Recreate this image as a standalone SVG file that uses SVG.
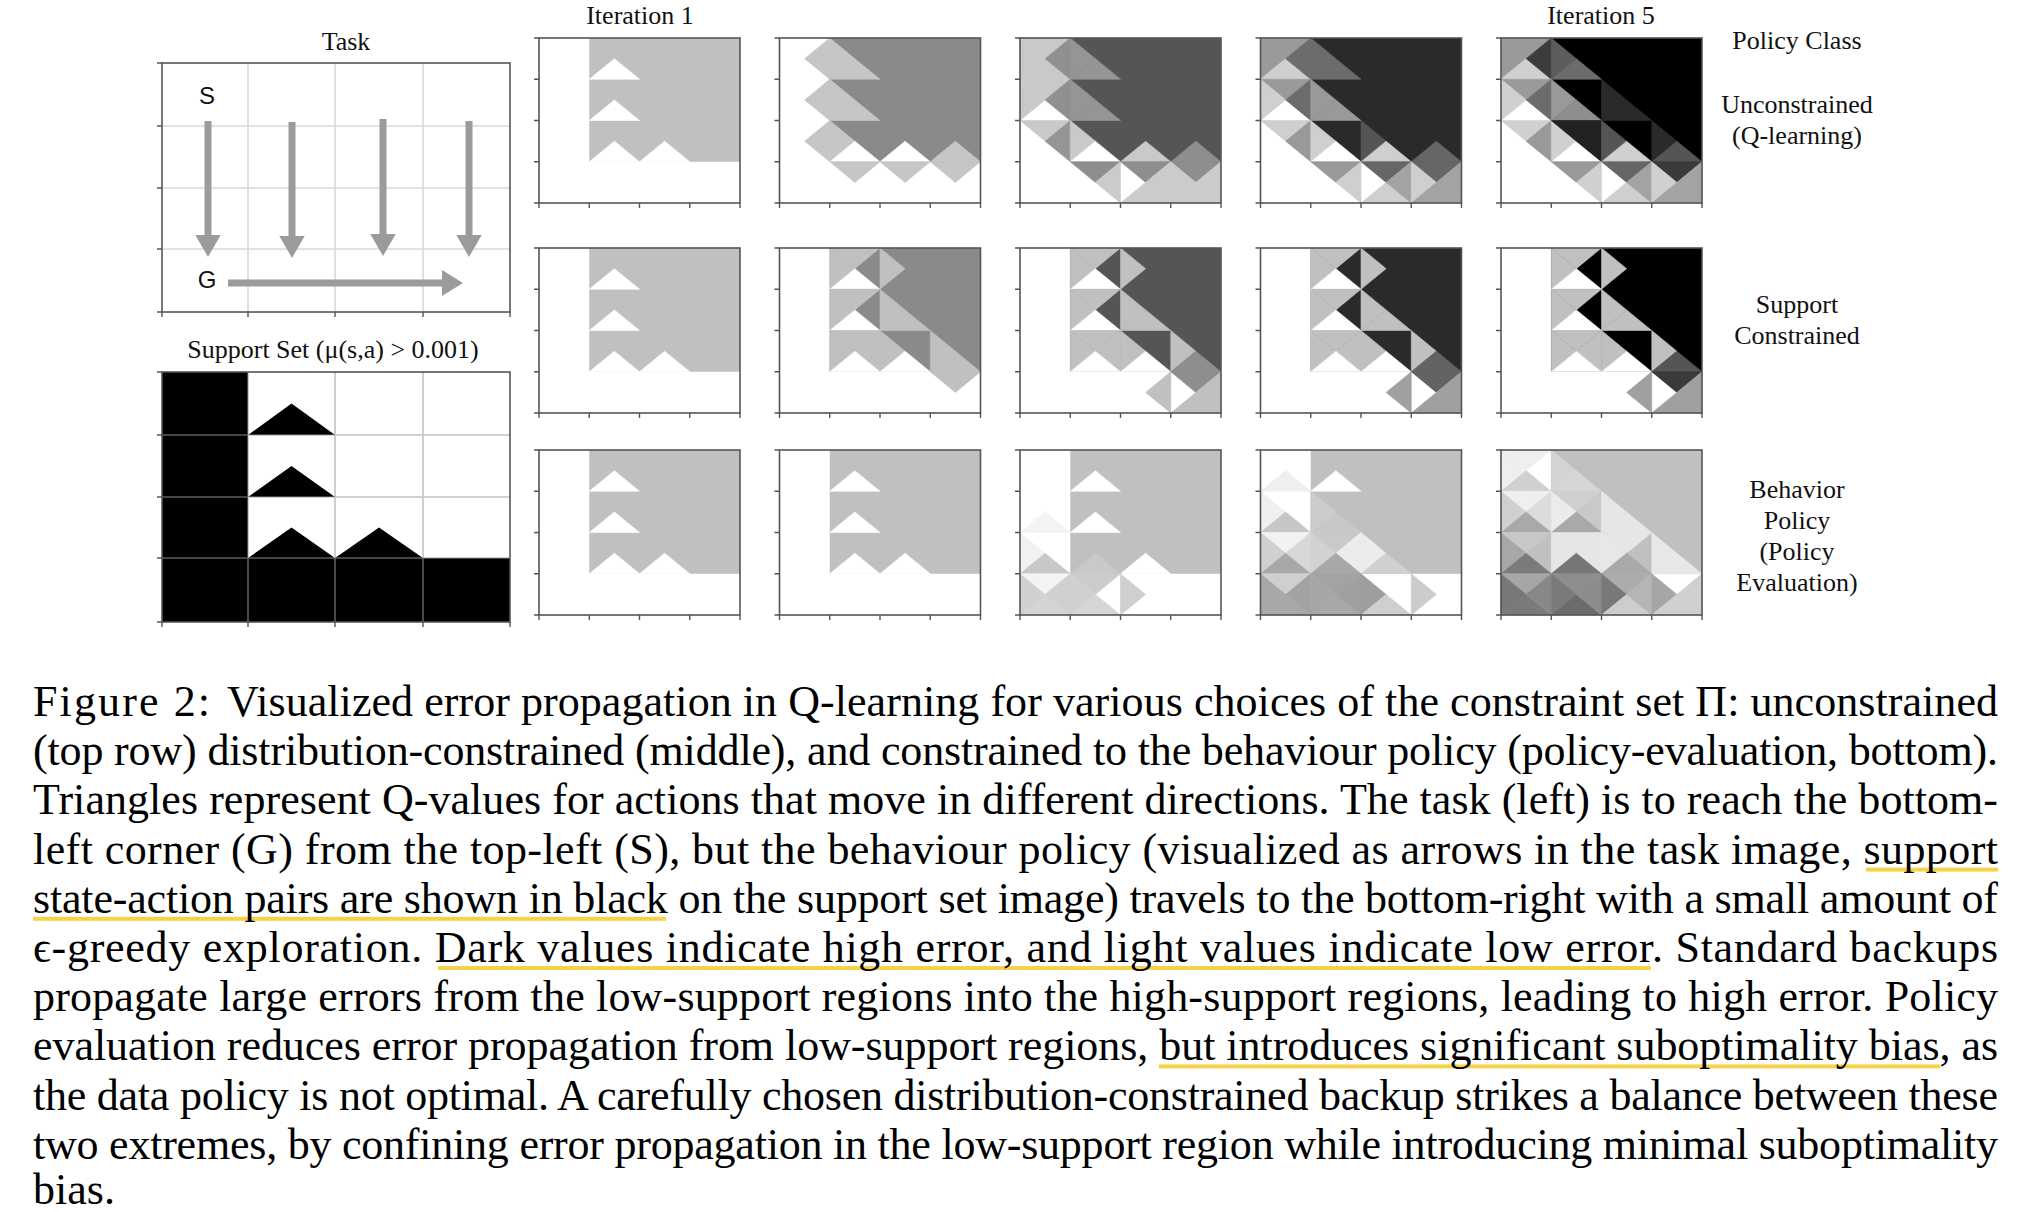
<svg xmlns="http://www.w3.org/2000/svg" xmlns:xlink="http://www.w3.org/1999/xlink" width="2020" height="1212" viewBox="0 0 2020 1212">
<style>
.lbl{font-family:"Liberation Serif","Times New Roman",serif;font-size:26px;fill:#111;text-anchor:middle}
.cap{font-family:"Liberation Serif","Times New Roman",serif;font-size:44px;fill:#000}
.sg{font-family:"Liberation Sans",Arial,sans-serif;font-size:24px;fill:#111;text-anchor:middle}
.frame{fill:none;stroke:#555;stroke-width:1.6}
.tk{fill:none;stroke:#555;stroke-width:1.4}
.ul{fill:#f6d24a}
.arr{fill:#9b9b9b}
</style>
<defs>
<path id="t" d="M0 0H50.25L25.125 20.625Z" fill="currentColor" stroke="currentColor" stroke-width="0.6" stroke-linejoin="round"/>
<path id="r" d="M50.25 0V41.25L25.125 20.625Z" fill="currentColor" stroke="currentColor" stroke-width="0.6" stroke-linejoin="round"/>
<path id="b" d="M0 41.25H50.25L25.125 20.625Z" fill="currentColor" stroke="currentColor" stroke-width="0.6" stroke-linejoin="round"/>
<path id="l" d="M0 0V41.25L25.125 20.625Z" fill="currentColor" stroke="currentColor" stroke-width="0.6" stroke-linejoin="round"/>
<path id="ticks" class="tk" d="M-5 0H0M-5 41.25H0M-5 82.5H0M-5 123.75H0M-5 165H0M0 165V170M50.25 165V170M100.5 165V170M150.75 165V170M201 165V170"/>
<g id="iter1">
<rect x="0" y="0" width="201" height="165" fill="#fff"/>
<rect x="50.25" y="0" width="150.75" height="123.75" fill="#c0c0c0"/>
<use href="#b" x="50.25" y="0" color="#fff"/>
<use href="#b" x="50.25" y="41.25" color="#fff"/>
<use href="#b" x="50.25" y="82.5" color="#fff"/>
<use href="#b" x="100.5" y="82.5" color="#fff"/>
</g>
</defs>
<rect width="2020" height="1212" fill="#fff"/>

<!-- Task panel -->
<g id="task">
<text class="lbl" x="346" y="50">Task</text>
<path d="M248 63V312M335 63V312M423 63V312M162 126H510M162 188H510M162 249H510" stroke="#d9d9d9" stroke-width="1.6" fill="none"/>
<rect class="frame" x="162" y="63" width="348" height="249"/>
<path class="tk" d="M157 63H162M157 126H162M157 188H162M157 249H162M157 312H162M162 312V317M248 312V317M335 312V317M423 312V317M510 312V317"/>
<text class="sg" x="207" y="104">S</text>
<text class="sg" x="207" y="288">G</text>
</g>
<g id="task-arrows">
<rect class="arr" x="204.5" y="121" width="7" height="116"/>
<polygon class="arr" points="195.3,235 220.7,235 208,257"/>
<rect class="arr" x="288.5" y="122" width="7" height="115"/>
<polygon class="arr" points="279.3,236 304.7,236 292,258"/>
<rect class="arr" x="379.5" y="119" width="7" height="116"/>
<polygon class="arr" points="370.3,234 395.7,234 383,256"/>
<rect class="arr" x="465.5" y="121" width="7" height="116"/>
<polygon class="arr" points="456.3,235 481.7,235 469,257"/>
<rect class="arr" x="228" y="279.5" width="216" height="7"/>
<polygon class="arr" points="442,270 442,296 463,283"/>
</g>

<!-- Support set panel -->
<g id="support-set">
<text class="lbl" x="333" y="358">Support Set (μ(s,a) &gt; 0.001)</text>
<rect x="162" y="372" width="86" height="250" fill="#000"/>
<rect x="162" y="558" width="348" height="64" fill="#000"/>
<polygon points="248,435 335,435 291.5,403.5" fill="#000"/>
<polygon points="248,497 335,497 291.5,466" fill="#000"/>
<polygon points="248,558 335,558 291.5,527.5" fill="#000"/>
<polygon points="335,558 423,558 379,527.5" fill="#000"/>
<path d="M248 372V622M335 372V622M423 372V622M162 435H510M162 497H510M162 558H510" stroke="#9a9a9a" stroke-opacity="0.6" stroke-width="1.6" fill="none"/>
<rect class="frame" x="162" y="372" width="348" height="250"/>
<path class="tk" d="M157 372H162M157 435H162M157 497H162M157 558H162M157 622H162M162 622V627M248 622V627M335 622V627M423 622V627M510 622V627"/>
</g>

<!-- column titles and row labels -->
<g id="titles">
<text class="lbl" x="640" y="24">Iteration 1</text>
<text class="lbl" x="1601" y="24">Iteration 5</text>
<text class="lbl" x="1797" y="49">Policy Class</text>
<text class="lbl" x="1797" y="113">Unconstrained</text>
<text class="lbl" x="1797" y="144">(Q-learning)</text>
<text class="lbl" x="1797" y="313">Support</text>
<text class="lbl" x="1797" y="344">Constrained</text>
<text class="lbl" x="1797" y="498">Behavior</text>
<text class="lbl" x="1797" y="529">Policy</text>
<text class="lbl" x="1797" y="560">(Policy</text>
<text class="lbl" x="1797" y="591">Evaluation)</text>
</g>

<!-- Row 1: Unconstrained -->
<g id="p-r1c1" transform="translate(539,38)">
<use href="#iter1"/>
<rect class="frame" width="201" height="165"/><use href="#ticks"/>
</g>
<g id="p-r1c2" transform="translate(779.5,38)">
<rect width="201" height="165" fill="#fff"/>
<rect x="50.25" width="150.75" height="123.75" fill="#8a8a8a"/>
<use href="#r" x="0" y="0" color="#c6c6c6"/><use href="#r" x="0" y="41.25" color="#c6c6c6"/><use href="#r" x="0" y="82.5" color="#c6c6c6"/>
<use href="#l" x="50.25" y="0" color="#c6c6c6"/><use href="#b" x="50.25" y="0" color="#c6c6c6"/>
<use href="#l" x="50.25" y="41.25" color="#c6c6c6"/><use href="#b" x="50.25" y="41.25" color="#c6c6c6"/>
<use href="#l" x="50.25" y="82.5" color="#c6c6c6"/><use href="#b" x="50.25" y="82.5" color="#fff"/>
<use href="#b" x="100.5" y="82.5" color="#fff"/><use href="#b" x="150.75" y="82.5" color="#c6c6c6"/>
<use href="#t" x="50.25" y="123.75" color="#c6c6c6"/><use href="#t" x="100.5" y="123.75" color="#c6c6c6"/><use href="#t" x="150.75" y="123.75" color="#c6c6c6"/>
<rect class="frame" width="201" height="165"/><use href="#ticks"/>
</g>
<g id="p-r1c3" transform="translate(1020,38)">
<rect width="201" height="165" fill="#fff"/>
<rect x="50.25" width="150.75" height="123.75" fill="#555"/>
<use href="#t" x="0" y="0" color="#c9c9c9"/><use href="#l" x="0" y="0" color="#c9c9c9"/><use href="#b" x="0" y="0" color="#c9c9c9"/><use href="#r" x="0" y="0" color="#909090"/>
<use href="#l" x="50.25" y="0" color="#959595"/><use href="#b" x="50.25" y="0" color="#959595"/>
<use href="#t" x="0" y="41.25" color="#c9c9c9"/><use href="#l" x="0" y="41.25" color="#c9c9c9"/><use href="#r" x="0" y="41.25" color="#909090"/>
<use href="#l" x="50.25" y="41.25" color="#959595"/><use href="#b" x="50.25" y="41.25" color="#959595"/>
<use href="#t" x="0" y="82.5" color="#c9c9c9"/><use href="#r" x="0" y="82.5" color="#959595"/>
<use href="#l" x="50.25" y="82.5" color="#c9c9c9"/><use href="#b" x="50.25" y="82.5" color="#fff"/>
<use href="#b" x="100.5" y="82.5" color="#c9c9c9"/><use href="#b" x="150.75" y="82.5" color="#8e8e8e"/>
<use href="#t" x="50.25" y="123.75" color="#8e8e8e"/><use href="#r" x="50.25" y="123.75" color="#cbcbcb"/>
<use href="#t" x="100.5" y="123.75" color="#8e8e8e"/><use href="#b" x="100.5" y="123.75" color="#cbcbcb"/><use href="#r" x="100.5" y="123.75" color="#cbcbcb"/>
<use href="#t" x="150.75" y="123.75" color="#8e8e8e"/><use href="#l" x="150.75" y="123.75" color="#cbcbcb"/><use href="#b" x="150.75" y="123.75" color="#cbcbcb"/><use href="#r" x="150.75" y="123.75" color="#cbcbcb"/>
<rect class="frame" width="201" height="165"/><use href="#ticks"/>
</g>
<g id="p-r1c4" transform="translate(1260.5,38)">
<rect width="201" height="165" fill="#fff"/>
<rect x="50.25" width="150.75" height="123.75" fill="#2a2a2a"/>
<use href="#t" x="0" y="0" color="#9a9a9a"/><use href="#l" x="0" y="0" color="#9a9a9a"/><use href="#b" x="0" y="0" color="#cfcfcf"/><use href="#r" x="0" y="0" color="#6c6c6c"/>
<use href="#l" x="50.25" y="0" color="#6c6c6c"/><use href="#b" x="50.25" y="0" color="#6c6c6c"/>
<use href="#t" x="0" y="41.25" color="#9a9a9a"/><use href="#l" x="0" y="41.25" color="#cfcfcf"/><use href="#r" x="0" y="41.25" color="#6c6c6c"/>
<use href="#l" x="50.25" y="41.25" color="#999"/><use href="#b" x="50.25" y="41.25" color="#999"/>
<use href="#t" x="0" y="82.5" color="#cfcfcf"/><use href="#r" x="0" y="82.5" color="#999"/>
<use href="#l" x="50.25" y="82.5" color="#cfcfcf"/><use href="#b" x="50.25" y="82.5" color="#fff"/>
<use href="#l" x="100.5" y="82.5" color="#555"/><use href="#b" x="100.5" y="82.5" color="#cfcfcf"/>
<use href="#b" x="150.75" y="82.5" color="#666"/>
<use href="#t" x="50.25" y="123.75" color="#999"/><use href="#r" x="50.25" y="123.75" color="#cfcfcf"/>
<use href="#t" x="100.5" y="123.75" color="#666"/><use href="#b" x="100.5" y="123.75" color="#cfcfcf"/><use href="#r" x="100.5" y="123.75" color="#a3a3a3"/>
<use href="#t" x="150.75" y="123.75" color="#666"/><use href="#l" x="150.75" y="123.75" color="#cfcfcf"/><use href="#b" x="150.75" y="123.75" color="#a3a3a3"/><use href="#r" x="150.75" y="123.75" color="#a3a3a3"/>
<rect class="frame" width="201" height="165"/><use href="#ticks"/>
</g>
<g id="p-r1c5" transform="translate(1501,38)">
<rect width="201" height="165" fill="#fff"/>
<rect x="50.25" width="150.75" height="123.75" fill="#000"/>
<use href="#t" x="0" y="0" color="#9a9a9a"/><use href="#l" x="0" y="0" color="#9a9a9a"/><use href="#b" x="0" y="0" color="#d0d0d0"/><use href="#r" x="0" y="0" color="#3c3c3c"/>
<use href="#l" x="50.25" y="0" color="#5c5c5c"/><use href="#b" x="50.25" y="0" color="#6c6c6c"/>
<use href="#t" x="0" y="41.25" color="#9a9a9a"/><use href="#l" x="0" y="41.25" color="#d0d0d0"/><use href="#r" x="0" y="41.25" color="#6c6c6c"/>
<use href="#l" x="50.25" y="41.25" color="#999"/><use href="#b" x="50.25" y="41.25" color="#8e8e8e"/>
<use href="#l" x="100.5" y="41.25" color="#2a2a2a"/><use href="#b" x="100.5" y="41.25" color="#2a2a2a"/>
<use href="#t" x="0" y="82.5" color="#d0d0d0"/><use href="#r" x="0" y="82.5" color="#999"/>
<use href="#l" x="50.25" y="82.5" color="#d0d0d0"/><use href="#b" x="50.25" y="82.5" color="#fff"/><use href="#t" x="50.25" y="82.5" color="#222"/><use href="#r" x="50.25" y="82.5" color="#222"/>
<use href="#l" x="100.5" y="82.5" color="#555"/><use href="#b" x="100.5" y="82.5" color="#d0d0d0"/>
<use href="#l" x="150.75" y="82.5" color="#2a2a2a"/><use href="#b" x="150.75" y="82.5" color="#555"/>
<use href="#t" x="50.25" y="123.75" color="#999"/><use href="#r" x="50.25" y="123.75" color="#d0d0d0"/>
<use href="#t" x="100.5" y="123.75" color="#666"/><use href="#b" x="100.5" y="123.75" color="#d0d0d0"/><use href="#r" x="100.5" y="123.75" color="#a3a3a3"/>
<use href="#t" x="150.75" y="123.75" color="#3a3a3a"/><use href="#l" x="150.75" y="123.75" color="#d0d0d0"/><use href="#b" x="150.75" y="123.75" color="#a3a3a3"/><use href="#r" x="150.75" y="123.75" color="#a3a3a3"/>
<rect class="frame" width="201" height="165"/><use href="#ticks"/>
</g>

<!-- Row 2: Support constrained -->
<g id="p-r2c1" transform="translate(539,248)">
<use href="#iter1"/>
<rect class="frame" width="201" height="165"/><use href="#ticks"/>
</g>
<g id="p-r2c2" transform="translate(779.5,248)">
<rect width="201" height="165" fill="#fff"/>
<rect x="50.25" width="150.75" height="123.75" fill="#8a8a8a"/>
<use href="#t" x="50.25" y="0" color="#c0c0c0"/><use href="#l" x="50.25" y="0" color="#c0c0c0"/><use href="#b" x="50.25" y="0" color="#fff"/>
<use href="#l" x="100.5" y="0" color="#c0c0c0"/>
<use href="#t" x="50.25" y="41.25" color="#c0c0c0"/><use href="#l" x="50.25" y="41.25" color="#c0c0c0"/><use href="#b" x="50.25" y="41.25" color="#fff"/>
<use href="#l" x="100.5" y="41.25" color="#c0c0c0"/><use href="#b" x="100.5" y="41.25" color="#c0c0c0"/>
<use href="#t" x="50.25" y="82.5" color="#c0c0c0"/><use href="#l" x="50.25" y="82.5" color="#c0c0c0"/><use href="#r" x="50.25" y="82.5" color="#c0c0c0"/><use href="#b" x="50.25" y="82.5" color="#fff"/>
<use href="#l" x="100.5" y="82.5" color="#c0c0c0"/><use href="#b" x="100.5" y="82.5" color="#fff"/>
<use href="#l" x="150.75" y="82.5" color="#c0c0c0"/><use href="#b" x="150.75" y="82.5" color="#c0c0c0"/>
<use href="#t" x="150.75" y="123.75" color="#c0c0c0"/>
<rect class="frame" width="201" height="165"/><use href="#ticks"/>
</g>
<g id="p-r2c3" transform="translate(1020,248)">
<rect width="201" height="165" fill="#fff"/>
<rect x="50.25" width="150.75" height="123.75" fill="#555"/>
<use href="#t" x="50.25" y="0" color="#c0c0c0"/><use href="#l" x="50.25" y="0" color="#c0c0c0"/><use href="#b" x="50.25" y="0" color="#fff"/>
<use href="#l" x="100.5" y="0" color="#c0c0c0"/>
<use href="#t" x="50.25" y="41.25" color="#c0c0c0"/><use href="#l" x="50.25" y="41.25" color="#c0c0c0"/><use href="#b" x="50.25" y="41.25" color="#fff"/>
<use href="#l" x="100.5" y="41.25" color="#c0c0c0"/><use href="#b" x="100.5" y="41.25" color="#c0c0c0"/>
<use href="#t" x="50.25" y="82.5" color="#c0c0c0"/><use href="#l" x="50.25" y="82.5" color="#c0c0c0"/><use href="#r" x="50.25" y="82.5" color="#c0c0c0"/><use href="#b" x="50.25" y="82.5" color="#fff"/>
<use href="#l" x="100.5" y="82.5" color="#c0c0c0"/><use href="#b" x="100.5" y="82.5" color="#fff"/>
<use href="#l" x="150.75" y="82.5" color="#c0c0c0"/><use href="#b" x="150.75" y="82.5" color="#8e8e8e"/>
<use href="#r" x="100.5" y="123.75" color="#c0c0c0"/>
<use href="#t" x="150.75" y="123.75" color="#8e8e8e"/><use href="#b" x="150.75" y="123.75" color="#c0c0c0"/><use href="#r" x="150.75" y="123.75" color="#c0c0c0"/>
<rect class="frame" width="201" height="165"/><use href="#ticks"/>
</g>
<g id="p-r2c4" transform="translate(1260.5,248)">
<rect width="201" height="165" fill="#fff"/>
<rect x="50.25" width="150.75" height="123.75" fill="#2a2a2a"/>
<use href="#t" x="50.25" y="0" color="#c0c0c0"/><use href="#l" x="50.25" y="0" color="#c0c0c0"/><use href="#b" x="50.25" y="0" color="#fff"/>
<use href="#l" x="100.5" y="0" color="#c0c0c0"/>
<use href="#t" x="50.25" y="41.25" color="#c0c0c0"/><use href="#l" x="50.25" y="41.25" color="#c0c0c0"/><use href="#b" x="50.25" y="41.25" color="#fff"/>
<use href="#l" x="100.5" y="41.25" color="#c0c0c0"/><use href="#b" x="100.5" y="41.25" color="#c0c0c0"/>
<use href="#t" x="50.25" y="82.5" color="#c0c0c0"/><use href="#l" x="50.25" y="82.5" color="#c0c0c0"/><use href="#r" x="50.25" y="82.5" color="#c0c0c0"/><use href="#b" x="50.25" y="82.5" color="#fff"/>
<use href="#l" x="100.5" y="82.5" color="#c0c0c0"/><use href="#b" x="100.5" y="82.5" color="#fff"/>
<use href="#l" x="150.75" y="82.5" color="#c0c0c0"/><use href="#b" x="150.75" y="82.5" color="#636363"/>
<use href="#r" x="100.5" y="123.75" color="#a0a0a0"/>
<use href="#t" x="150.75" y="123.75" color="#636363"/><use href="#b" x="150.75" y="123.75" color="#a0a0a0"/><use href="#r" x="150.75" y="123.75" color="#a0a0a0"/>
<rect class="frame" width="201" height="165"/><use href="#ticks"/>
</g>
<g id="p-r2c5" transform="translate(1501,248)">
<rect width="201" height="165" fill="#fff"/>
<rect x="50.25" width="150.75" height="123.75" fill="#000"/>
<use href="#t" x="50.25" y="0" color="#c0c0c0"/><use href="#l" x="50.25" y="0" color="#c0c0c0"/><use href="#b" x="50.25" y="0" color="#fff"/>
<use href="#l" x="100.5" y="0" color="#c0c0c0"/>
<use href="#t" x="50.25" y="41.25" color="#c0c0c0"/><use href="#l" x="50.25" y="41.25" color="#c0c0c0"/><use href="#b" x="50.25" y="41.25" color="#fff"/>
<use href="#l" x="100.5" y="41.25" color="#c0c0c0"/><use href="#b" x="100.5" y="41.25" color="#c0c0c0"/>
<use href="#t" x="50.25" y="82.5" color="#c0c0c0"/><use href="#l" x="50.25" y="82.5" color="#c0c0c0"/><use href="#r" x="50.25" y="82.5" color="#c0c0c0"/><use href="#b" x="50.25" y="82.5" color="#fff"/>
<use href="#l" x="100.5" y="82.5" color="#c0c0c0"/><use href="#b" x="100.5" y="82.5" color="#fff"/>
<use href="#l" x="150.75" y="82.5" color="#c0c0c0"/><use href="#b" x="150.75" y="82.5" color="#555"/>
<use href="#r" x="100.5" y="123.75" color="#a0a0a0"/>
<use href="#t" x="150.75" y="123.75" color="#3a3a3a"/><use href="#b" x="150.75" y="123.75" color="#a0a0a0"/><use href="#r" x="150.75" y="123.75" color="#a0a0a0"/>
<rect class="frame" width="201" height="165"/><use href="#ticks"/>
</g>

<!-- Row 3: Behavior policy -->
<g id="p-r3c1" transform="translate(539,450)">
<use href="#iter1"/>
<rect class="frame" width="201" height="165"/><use href="#ticks"/>
</g>
<g id="p-r3c2" transform="translate(779.5,450)">
<use href="#iter1"/>
<rect class="frame" width="201" height="165"/><use href="#ticks"/>
</g>
<g id="p-r3c3" transform="translate(1020,450)">
<rect width="201" height="165" fill="#fff"/>
<rect x="50.25" width="150.75" height="123.75" fill="#c0c0c0"/>
<use href="#b" x="50.25" y="0" color="#fff"/><use href="#b" x="50.25" y="41.25" color="#fff"/><use href="#b" x="100.5" y="82.5" color="#fff"/>
<use href="#b" x="0" y="41.25" color="#f3f3f3"/>
<use href="#l" x="0" y="82.5" color="#f2f2f2"/><use href="#b" x="0" y="82.5" color="#c8c8c8"/>
<use href="#b" x="50.25" y="82.5" color="#c9c9c9"/>
<use href="#t" x="0" y="123.75" color="#f3f3f3"/><use href="#l" x="0" y="123.75" color="#d0d0d0"/><use href="#b" x="0" y="123.75" color="#d4d4d4"/><use href="#r" x="0" y="123.75" color="#d0d0d0"/>
<use href="#t" x="50.25" y="123.75" color="#ccc"/><use href="#l" x="50.25" y="123.75" color="#d0d0d0"/><use href="#b" x="50.25" y="123.75" color="#d6d6d6"/>
<use href="#l" x="100.5" y="123.75" color="#cfcfcf"/>
<rect class="frame" width="201" height="165"/><use href="#ticks"/>
</g>
<g id="p-r3c4" transform="translate(1260.5,450)">
<rect width="201" height="165" fill="#fff"/>
<rect x="50.25" width="150.75" height="123.75" fill="#c0c0c0"/>
<use href="#b" x="0" y="0" color="#efefef"/><use href="#b" x="50.25" y="0" color="#fff"/>
<use href="#l" x="0" y="41.25" color="#f0f0f0"/><use href="#b" x="0" y="41.25" color="#c6c6c6"/>
<use href="#l" x="50.25" y="41.25" color="#ccc"/><use href="#b" x="50.25" y="41.25" color="#c8c8c8"/>
<use href="#t" x="0" y="82.5" color="#f2f2f2"/><use href="#l" x="0" y="82.5" color="#d0d0d0"/><use href="#r" x="0" y="82.5" color="#d8d8d8"/><use href="#b" x="0" y="82.5" color="#a8a8a8"/>
<use href="#t" x="50.25" y="82.5" color="#c9c9c9"/><use href="#l" x="50.25" y="82.5" color="#d2d2d2"/><use href="#r" x="50.25" y="82.5" color="#ececec"/><use href="#b" x="50.25" y="82.5" color="#a8a8a8"/>
<use href="#l" x="100.5" y="82.5" color="#ececec"/><use href="#b" x="100.5" y="82.5" color="#d0d0d0"/>
<use href="#t" x="0" y="123.75" color="#cfcfcf"/><use href="#l" x="0" y="123.75" color="#a8a8a8"/><use href="#b" x="0" y="123.75" color="#a8a8a8"/><use href="#r" x="0" y="123.75" color="#a2a2a2"/>
<use href="#t" x="50.25" y="123.75" color="#a3a3a3"/><use href="#l" x="50.25" y="123.75" color="#a6a6a6"/><use href="#b" x="50.25" y="123.75" color="#a8a8a8"/><use href="#r" x="50.25" y="123.75" color="#a0a0a0"/>
<use href="#l" x="100.5" y="123.75" color="#9e9e9e"/><use href="#b" x="100.5" y="123.75" color="#cfcfcf"/>
<use href="#l" x="150.75" y="123.75" color="#ccc"/>
<rect class="frame" width="201" height="165"/><use href="#ticks"/>
</g>
<g id="p-r3c5" transform="translate(1501,450)">
<rect width="201" height="165" fill="#fff"/>
<rect x="50.25" width="150.75" height="123.75" fill="#c0c0c0"/>
<use href="#t" x="0" y="0" color="#efefef"/><use href="#l" x="0" y="0" color="#efefef"/><use href="#b" x="0" y="0" color="#d0d0d0"/>
<use href="#l" x="50.25" y="0" color="#d4d4d4"/><use href="#b" x="50.25" y="0" color="#d6d6d6"/>
<use href="#t" x="0" y="41.25" color="#efefef"/><use href="#l" x="0" y="41.25" color="#d0d0d0"/><use href="#r" x="0" y="41.25" color="#dcdcdc"/><use href="#b" x="0" y="41.25" color="#a9a9a9"/>
<use href="#t" x="50.25" y="41.25" color="#d0d0d0"/><use href="#l" x="50.25" y="41.25" color="#ebebeb"/><use href="#r" x="50.25" y="41.25" color="#c9c9c9"/><use href="#b" x="50.25" y="41.25" color="#a9a9a9"/>
<use href="#l" x="100.5" y="41.25" color="#e6e6e6"/><use href="#b" x="100.5" y="41.25" color="#e6e6e6"/>
<use href="#t" x="0" y="82.5" color="#c8c8c8"/><use href="#l" x="0" y="82.5" color="#a8a8a8"/><use href="#r" x="0" y="82.5" color="#c0c0c0"/><use href="#b" x="0" y="82.5" color="#7a7a7a"/>
<use href="#t" x="50.25" y="82.5" color="#e6e6e6"/><use href="#l" x="50.25" y="82.5" color="#e6e6e6"/><use href="#r" x="50.25" y="82.5" color="#e6e6e6"/><use href="#b" x="50.25" y="82.5" color="#777"/>
<use href="#t" x="100.5" y="82.5" color="#e6e6e6"/><use href="#l" x="100.5" y="82.5" color="#e8e8e8"/><use href="#b" x="100.5" y="82.5" color="#a9a9a9"/>
<use href="#l" x="150.75" y="82.5" color="#e8e8e8"/><use href="#b" x="150.75" y="82.5" color="#e8e8e8"/>
<use href="#t" x="0" y="123.75" color="#a6a6a6"/><use href="#l" x="0" y="123.75" color="#787878"/><use href="#b" x="0" y="123.75" color="#7a7a7a"/><use href="#r" x="0" y="123.75" color="#888"/>
<use href="#t" x="50.25" y="123.75" color="#8e8e8e"/><use href="#l" x="50.25" y="123.75" color="#7a7a7a"/><use href="#b" x="50.25" y="123.75" color="#6b6b6b"/><use href="#r" x="50.25" y="123.75" color="#8c8c8c"/>
<use href="#t" x="100.5" y="123.75" color="#acacac"/><use href="#l" x="100.5" y="123.75" color="#787878"/><use href="#b" x="100.5" y="123.75" color="#cdcdcd"/><use href="#r" x="100.5" y="123.75" color="#b5b5b5"/>
<use href="#l" x="150.75" y="123.75" color="#a6a6a6"/><use href="#b" x="150.75" y="123.75" color="#d0d0d0"/><use href="#r" x="150.75" y="123.75" color="#d0d0d0"/>
<rect class="frame" width="201" height="165"/><use href="#ticks"/>
</g>

<!-- Caption -->
<g id="caption">
<rect class="ul" x="1866" y="867.6" width="132" height="4"/>
<rect class="ul" x="33" y="916.8" width="633" height="4"/>
<rect class="ul" x="438" y="966" width="1213" height="4"/>
<rect class="ul" x="1159" y="1064.4" width="781" height="4"/>
<text class="cap" x="33" y="716" font-size="49" textLength="177" lengthAdjust="spacing">Figure 2:</text>
<text class="cap" x="227" y="716" textLength="1771" lengthAdjust="spacing">Visualized error propagation in Q-learning for various choices of the constraint set Π: unconstrained</text>
<text class="cap" x="33" y="765.2" textLength="1965" lengthAdjust="spacing">(top row) distribution-constrained (middle), and constrained to the behaviour policy (policy-evaluation, bottom).</text>
<text class="cap" x="33" y="814.4" textLength="1965" lengthAdjust="spacing">Triangles represent Q-values for actions that move in different directions. The task (left) is to reach the bottom-</text>
<text class="cap" x="33" y="863.6" textLength="1965" lengthAdjust="spacing">left corner (G) from the top-left (S), but the behaviour policy (visualized as arrows in the task image, support</text>
<text class="cap" x="33" y="912.8" textLength="1965" lengthAdjust="spacing">state-action pairs are shown in black on the support set image) travels to the bottom-right with a small amount of</text>
<text class="cap" x="33" y="962" textLength="1965" lengthAdjust="spacing">ϵ-greedy exploration. Dark values indicate high error, and light values indicate low error. Standard backups</text>
<text class="cap" x="33" y="1011.2" textLength="1965" lengthAdjust="spacing">propagate large errors from the low-support regions into the high-support regions, leading to high error. Policy</text>
<text class="cap" x="33" y="1060.4" textLength="1965" lengthAdjust="spacing">evaluation reduces error propagation from low-support regions, but introduces significant suboptimality bias, as</text>
<text class="cap" x="33" y="1109.6" textLength="1965" lengthAdjust="spacing">the data policy is not optimal. A carefully chosen distribution-constrained backup strikes a balance between these</text>
<text class="cap" x="33" y="1158.8" textLength="1965" lengthAdjust="spacing">two extremes, by confining error propagation in the low-support region while introducing minimal suboptimality</text>
<text class="cap" x="33" y="1204">bias.</text>
</g>
</svg>
